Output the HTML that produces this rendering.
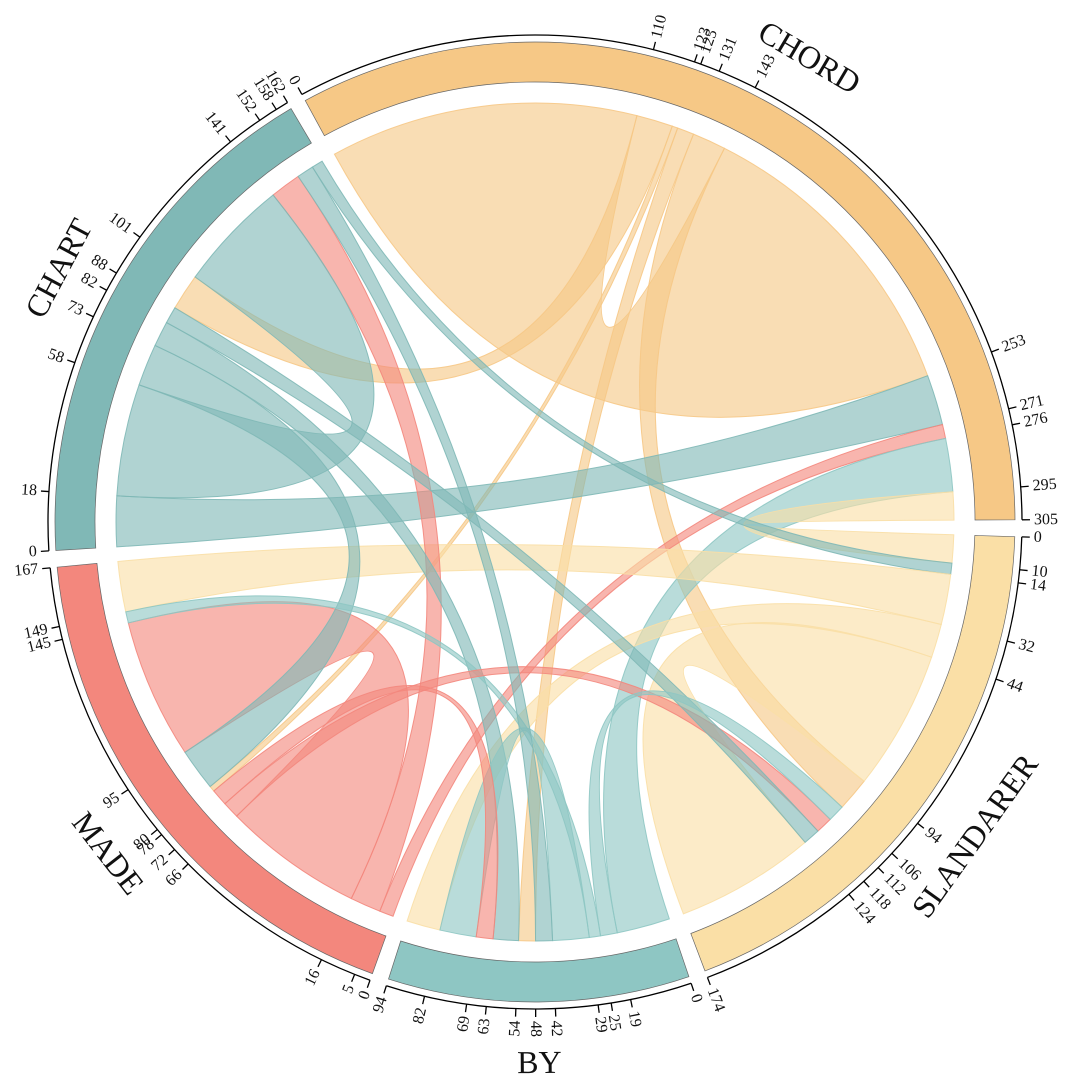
<!DOCTYPE html>
<html><head><meta charset="utf-8"><style>
html,body{margin:0;padding:0;background:#fff;}
svg{display:block;}
text{font-family:"Liberation Serif",serif;fill:#111;}
.t{font-size:16px;}
.n{font-size:32px;}
</style></head><body>
<svg id="s" width="1066" height="1092" viewBox="0 0 1066 1092">
<g id="rib"></g>
<g id="band"></g>
<g id="g0" class="lab"><text class="t">0</text><text class="t">110</text><text class="t">123</text><text class="t">125</text><text class="t">131</text><text class="t">143</text><text class="t">253</text><text class="t">271</text><text class="t">276</text><text class="t">295</text><text class="t">305</text></g>
<g id="g1" class="lab"><text class="t">0</text><text class="t">10</text><text class="t">14</text><text class="t">32</text><text class="t">44</text><text class="t">94</text><text class="t">106</text><text class="t">112</text><text class="t">118</text><text class="t">124</text><text class="t">174</text></g>
<g id="g2" class="lab"><text class="t">0</text><text class="t">19</text><text class="t">25</text><text class="t">29</text><text class="t">42</text><text class="t">48</text><text class="t">54</text><text class="t">63</text><text class="t">69</text><text class="t">82</text><text class="t">94</text></g>
<g id="g3" class="lab"><text class="t">0</text><text class="t">5</text><text class="t">16</text><text class="t">66</text><text class="t">72</text><text class="t">78</text><text class="t">80</text><text class="t">95</text><text class="t">145</text><text class="t">149</text><text class="t">167</text></g>
<g id="g4" class="lab"><text class="t">0</text><text class="t">18</text><text class="t">58</text><text class="t">73</text><text class="t">82</text><text class="t">88</text><text class="t">101</text><text class="t">141</text><text class="t">152</text><text class="t">158</text><text class="t">162</text></g>
<g id="names"><text class="n">CHORD</text><text class="n">SLANDARER</text><text class="n">BY</text><text class="n">MADE</text><text class="n">CHART</text></g>
</svg>
<script>
var cx=535,cy=522,k=0.388;
var st=[-28.6,91.75,161.3,199.8,266.6],sz=[305,174,94,167,162];
var col=['#f6c886','#fadfa6','#8ec6c3','#f3877d','#80b8b6'];
var NS='http://www.w3.org/2000/svg';
function A(g,v){return st[g]+v*k;}
function P(r,a){a=a*Math.PI/180;return (cx+r*Math.sin(a)).toFixed(2)+' '+(cy-r*Math.cos(a)).toFixed(2);}
function arc(r,a0,a1){return 'A '+r+' '+r+' 0 '+((a1-a0)>180?1:0)+' 1 '+P(r,a1);}
function el(t,at,p){var e=document.createElementNS(NS,t);for(var x in at)e.setAttribute(x,at[x]);p.appendChild(e);return e;}
var C=[[0,0,110,0,143,253],[0,110,123,4,88,101],[0,123,125,3,78,80],[0,125,131,2,48,54],[0,131,143,1,94,106],
[4,0,18,0,253,271],[3,0,5,0,271,276],[2,0,19,0,276,295],[1,0,10,0,295,305],[4,158,162,1,10,14],
[1,14,32,3,149,167],[1,32,44,2,82,94],[1,44,94,1,124,174],[3,5,16,4,141,152],[3,16,66,3,95,145],
[4,18,58,4,101,141],[4,58,73,3,80,95],[4,73,82,2,54,63],[2,25,29,3,145,149],[2,29,42,2,69,82],
[3,66,72,1,112,118],[3,72,78,2,63,69],[4,82,88,1,118,124],[4,152,158,2,42,48],[2,19,25,1,106,112]];
var R=419,rib=document.getElementById('rib');
C.forEach(function(c){var a0=A(c[0],c[1]),a1=A(c[0],c[2]),b0=A(c[3],c[4]),b1=A(c[3],c[5]);
var d='M '+P(R,a0)+' '+arc(R,a0,a1)+' Q '+cx+' '+cy+' '+P(R,b0)+' '+arc(R,b0,b1)+' Q '+cx+' '+cy+' '+P(R,a0)+' Z';
el('path',{d:d,fill:col[c[0]],'fill-opacity':0.62,stroke:col[c[0]],'stroke-width':1,'stroke-opacity':0.9},rib);});
var band=document.getElementById('band');
for(var g=0;g<5;g++){var a0=A(g,0),a1=A(g,sz[g]);
el('path',{d:'M '+P(480,a0)+' '+arc(480,a0,a1)+' L '+P(440,a1)+' A 440 440 0 '+((a1-a0)>180?1:0)+' 0 '+P(440,a0)+' Z',fill:col[g],stroke:'#666','stroke-width':0.7},band);
el('path',{d:'M '+P(487,a0)+' '+arc(487,a0,a1),fill:'none',stroke:'#000','stroke-width':1.3},band);
var ts=document.getElementById('g'+g).getElementsByTagName('text');
for(var i=0;i<ts.length;i++){var v=parseFloat(ts[i].textContent),a=A(g,v);
el('path',{d:'M '+P(487,a)+' L '+P(495,a),stroke:'#000','stroke-width':1.3},band);
var n=((a%360)+360)%360,t=ts[i];
t.setAttribute('dominant-baseline','central');
if(n<180){t.setAttribute('text-anchor','start');t.setAttribute('transform','translate('+cx+','+cy+') rotate('+a+') translate(0,-499) rotate(-90)');}
else{t.setAttribute('text-anchor','end');t.setAttribute('transform','translate('+cx+','+cy+') rotate('+a+') translate(0,-499) rotate(90)');}
}}
var ns=document.getElementById('names').getElementsByTagName('text');
for(var g=0;g<5;g++){var m=A(g,sz[g]/2),n=((m%360)+360)%360,rot=(n>90&&n<270)?n-180:n;
var p=P(540,m).split(' ');ns[g].setAttribute('text-anchor','middle');ns[g].setAttribute('dominant-baseline','central');
ns[g].setAttribute('transform','translate('+p[0]+','+p[1]+') rotate('+rot+')');}
</script>
</body></html>
